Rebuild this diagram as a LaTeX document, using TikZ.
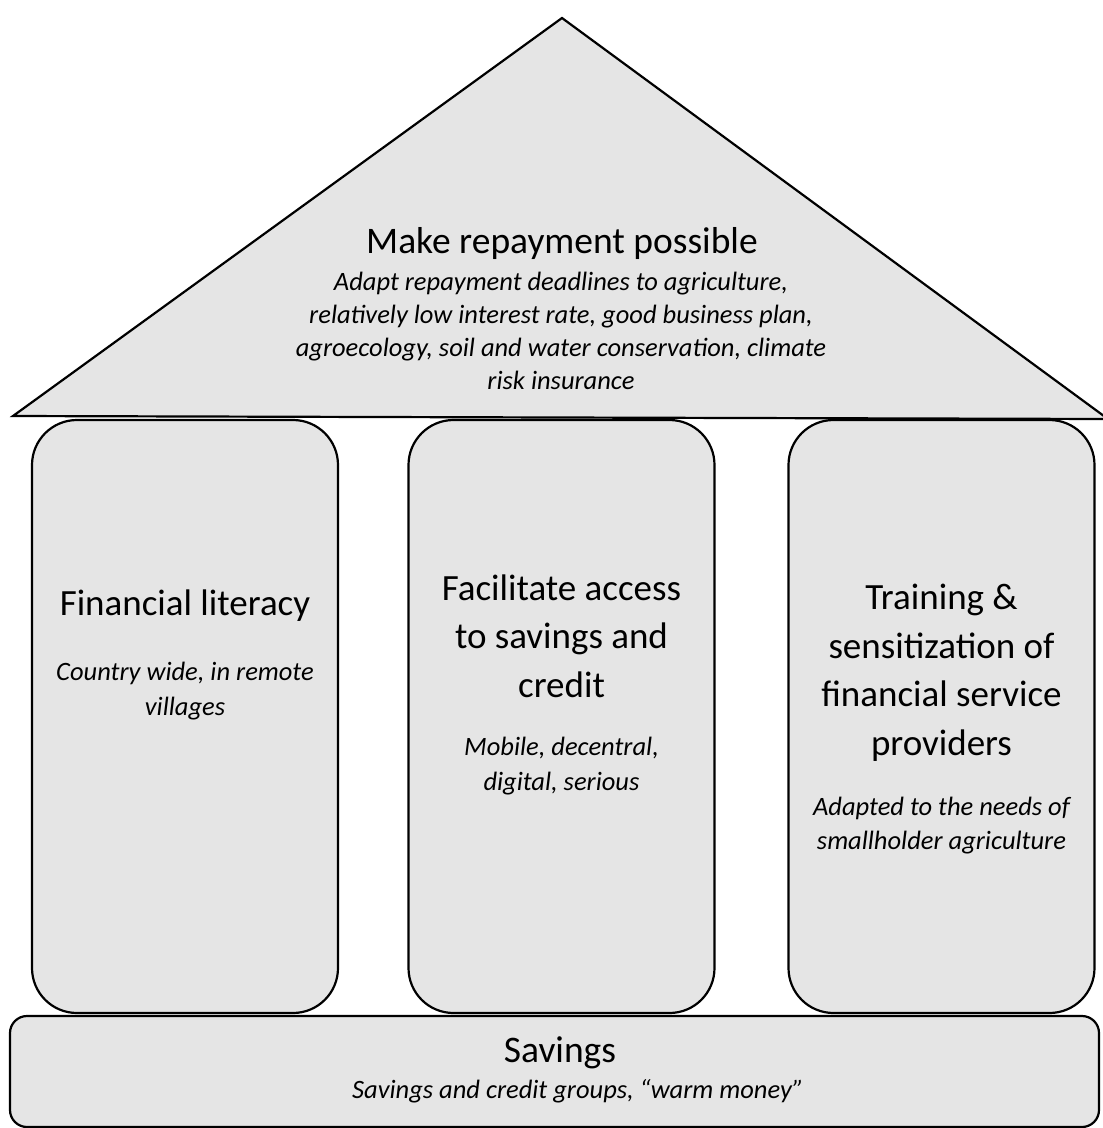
\documentclass[tikz,border=0pt]{standalone}
\usepackage{fontspec}
\setmainfont{Carlito}
\begin{document}
\begin{tikzpicture}[x=1pt,y=-1pt,
  part/.style={draw=black,line width=2.2pt,fill=black!10},
  pillar/.style={part,rounded corners=45pt,minimum width=306pt,minimum height=593pt,inner sep=0pt},
  head/.style={font=\fontsize{37}{48.5}\selectfont,align=center,inner sep=0pt},
  note/.style={font=\fontsize{26.5}{34.5}\selectfont\itshape,align=center,inner sep=0pt},
  rooftitle/.style={font=\fontsize{37.5}{44}\selectfont,align=center,inner sep=0pt},
  roofnote/.style={font=\fontsize{26.5}{33}\selectfont\itshape,align=center,inner sep=0pt}]
\useasboundingbox (0,0) rectangle (1103,1128);
\begin{scope}
\clip (0,0) rectangle (1103,1128);
% roof
\draw[part,line join=miter] (13,416) -- (562,18) -- (1108,419) -- cycle;
% pillars
\node[pillar] (p1) at (185,716.5) {};
\node[pillar] (p2) at (561.5,716.5) {};
\node[pillar] (p3) at (941.5,716.5) {};
% base
\draw[part,rounded corners=17pt] (10,1016) rectangle (1099,1127);
\end{scope}
\node[rooftitle] (rt) at (562,243) {Make repayment possible};
\node[roofnote] (rn) at (561,331) {Adapt repayment deadlines to agriculture,\\relatively low interest rate, good business plan,\\agroecology, soil and water conservation, climate\\risk insurance};
\node[head] (t1) at (185,606) {Financial literacy};
\node[note] (n1) at (185,691) {Country wide, in remote\\villages};
\node[head] (t2) at (561.5,636) {Facilitate access\\to savings and\\credit};
\node[note] (n2) at (561.5,766) {Mobile, decentral,\\digital, serious};
\node[head] (t3) at (941.5,672.5) {Training \&\\sensitization of\\financial service\\providers};
\node[note] (n3) at (941.5,825.5) {Adapted to the needs of\\smallholder agriculture};
\node[rooftitle] (bt) at (560,1053) {Savings};
\node[roofnote] (bn) at (578,1091) {Savings and credit groups, “warm money”};
\end{tikzpicture}
\end{document}
